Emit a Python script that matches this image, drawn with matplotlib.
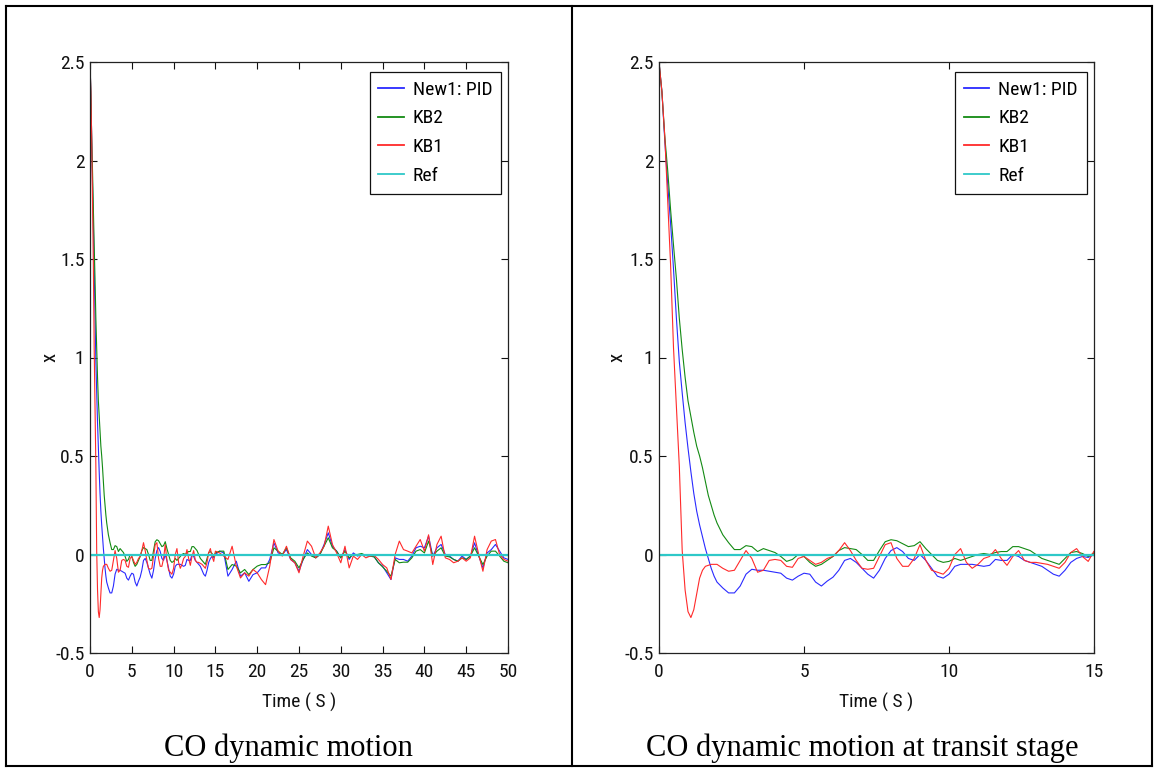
import numpy as np
import matplotlib
matplotlib.use("Agg")
import matplotlib.pyplot as plt
from matplotlib.lines import Line2D
from matplotlib import font_manager as fm

# ---------------- data ----------------
t_a = np.round(np.arange(0.0, 2.0, 0.1), 2)    # 0 .. 1.9
t_b = np.round(np.arange(2.0, 15.0, 0.2), 2)   # 2 .. 14.8
t_c = np.round(np.arange(15.0, 50.01, 0.5), 2) # 15 .. 50

blue_a = [2.5, 2.35, 2.1, 1.88, 1.68, 1.45, 1.2, 0.98, 0.82, 0.67, 0.54, 0.42,
          0.31, 0.22, 0.15, 0.09, 0.03, -0.02, -0.07, -0.11]
blue_b = [-0.14, -0.17, -0.195, -0.195, -0.16, -0.1, -0.075, -0.08, -0.08, -0.085,
          -0.09, -0.095, -0.12, -0.13, -0.11, -0.095, -0.1, -0.14, -0.16, -0.135,
          -0.115, -0.08, -0.03, -0.02, -0.04, -0.07, -0.1, -0.12, -0.08, -0.02,
          0.02, 0.035, 0.015, -0.02, -0.03, 0.0, -0.03, -0.07, -0.11, -0.12,
          -0.1, -0.06, -0.05, -0.05, -0.05, -0.055, -0.06, -0.055, -0.025, -0.03,
          -0.03, 0.0, -0.01, -0.03, -0.04, -0.05, -0.06, -0.08, -0.1, -0.11,
          -0.08, -0.04, -0.02, -0.01, -0.015]
blue_c = [0.0, 0.017, 0.008, -0.11, -0.076, -0.034, -0.11, -0.093, -0.136, -0.102,
          -0.093, -0.068, -0.068, -0.025, 0.059, 0.008, 0.0, 0.025, -0.025, -0.042,
          -0.085, -0.025, 0.025, 0.0, -0.017, 0.0, 0.051, 0.11, 0.042, 0.017,
          -0.017, 0.025, -0.025, 0.008, -0.008, 0.0, -0.005, -0.008, -0.012, -0.042,
          -0.059, -0.093, -0.127, -0.017, -0.025, -0.025, -0.034, -0.008, 0.034, 0.042,
          0.034, 0.093, -0.008, 0.034, 0.051, 0.0, -0.008, -0.025, -0.034, -0.008,
          -0.025, -0.008, 0.059, -0.008, -0.068, 0.008, 0.025, 0.051, 0.017, -0.017,
          -0.025]

green_a = [2.5, 2.35, 2.12, 1.95, 1.75, 1.57, 1.4, 1.2, 1.04, 0.9, 0.78, 0.7,
           0.62, 0.55, 0.5, 0.44, 0.37, 0.3, 0.25, 0.2]
green_b = [0.16, 0.1, 0.06, 0.025, 0.025, 0.045, 0.04, 0.015, 0.03, 0.02,
           0.01, -0.01, -0.035, -0.025, 0.0, -0.01, -0.04, -0.06, -0.05, -0.03,
           -0.01, 0.02, 0.035, 0.03, 0.025, 0.0, -0.03, -0.03, 0.02, 0.065,
           0.075, 0.07, 0.055, 0.04, 0.045, 0.065, 0.03, 0.0, -0.03, -0.04,
           -0.035, -0.02, -0.03, -0.02, -0.01, 0.0, 0.005, 0.0, 0.01, 0.015,
           0.015, 0.04, 0.04, 0.03, 0.02, 0.0, -0.02, -0.03, -0.04, -0.05,
           -0.02, 0.01, 0.015, 0.005, -0.01]
green_c = [0.008, 0.017, 0.017, -0.076, -0.051, -0.059, -0.093, -0.076, -0.102, -0.076,
           -0.059, -0.051, -0.051, -0.042, 0.034, 0.017, 0.0, 0.034, -0.017, -0.034,
           -0.068, -0.025, 0.008, -0.008, -0.017, 0.0, 0.042, 0.085, 0.034, 0.017,
           -0.017, 0.017, -0.017, 0.0, 0.0, 0.005, -0.005, -0.008, -0.012, -0.042,
           -0.063, -0.085, -0.11, -0.025, -0.042, -0.039, -0.039, -0.017, 0.017, 0.025,
           0.008, 0.068, -0.008, 0.017, 0.034, -0.008, -0.012, -0.025, -0.034, -0.017,
           -0.025, -0.008, 0.034, -0.008, -0.051, -0.008, 0.017, 0.017, -0.008, -0.034,
           -0.042]

red_a = [2.5, 2.35, 2.12, 1.8, 1.47, 1.05, 0.75, 0.45, 0.02, -0.18, -0.29, -0.32,
         -0.28, -0.2, -0.12, -0.08, -0.06, -0.055, -0.05, -0.05]
red_b = [-0.05, -0.07, -0.085, -0.08, -0.03, 0.02, -0.02, -0.09, -0.08, -0.03,
         -0.025, -0.03, -0.06, -0.065, -0.02, -0.01, -0.03, -0.05, -0.04, -0.02,
         -0.01, 0.02, 0.06, 0.02, -0.03, -0.07, -0.075, -0.07, -0.01, 0.05,
         0.06, -0.02, -0.06, -0.06, -0.02, 0.05, -0.03, -0.08, -0.09, -0.1,
         -0.07, 0.0, 0.03, -0.04, -0.07, -0.05, -0.02, -0.01, 0.025, -0.02,
         -0.055, -0.01, 0.02, -0.03, -0.04, -0.04, -0.045, -0.05, -0.06, -0.07,
         -0.04, 0.01, 0.03, -0.01, -0.035]
red_c = [0.017, 0.008, -0.008, -0.025, 0.042, -0.059, -0.119, -0.093, -0.11, -0.076,
         -0.093, -0.127, -0.153, -0.059, 0.076, 0.017, -0.008, 0.042, -0.025, -0.042,
         -0.093, -0.008, 0.068, 0.042, -0.017, 0.008, 0.042, 0.144, 0.051, 0.008,
         -0.042, 0.042, -0.068, -0.008, -0.025, 0.0, -0.017, -0.008, -0.005, -0.025,
         -0.051, -0.068, -0.127, 0.0, 0.068, 0.025, 0.017, 0.008, 0.042, 0.076,
         0.017, 0.10, -0.051, 0.051, 0.093, -0.017, -0.025, -0.042, -0.034, -0.017,
         -0.034, -0.017, 0.093, 0.0, -0.085, 0.025, 0.068, 0.076, 0.0, -0.025,
         -0.034]

ref_t = [0.0, 50.0]
ref_x = [0.0, 0.0]

labels = ["New1: PID", "KB2", "KB1", "Ref"]
captions = ["CO dynamic motion", "CO dynamic motion at transit stage"]
x_ticks_left = [0, 5, 10, 15, 20, 25, 30, 35, 40, 45, 50]
x_ticks_right = [0, 5, 10, 15]
y_ticks = [-0.5, 0, 0.5, 1, 1.5, 2, 2.5]
y_ticklabels = ["-0.5", "0", "0.5", "1", "1.5", "2", "2.5"]

t = np.concatenate([t_a, t_b, t_c])
blue = np.concatenate([blue_a, blue_b, blue_c])
green = np.concatenate([green_a, green_b, green_c])
red = np.concatenate([red_a, red_b, red_c])

# ---------------- fonts ----------------
def pick_narrow():
    entries = fm.fontManager.ttflist
    prefs = ["liberation sans narrow", "roboto condensed", "dejavu sans condensed",
             "open sans condensed", "noto sans condensed", "arial narrow"]
    for pref in prefs:
        for f in entries:
            fn = f.fname.lower()
            if f.style != "normal" or f.weight not in (400, "normal", "regular"):
                continue
            key = pref.replace(" ", "")
            if key in fn.replace("-", "").replace("_", "").replace(" ", ""):
                return f.fname
    for f in entries:
        if ("condensed" in str(f.stretch).lower() and f.style == "normal"
                and f.weight in (400, "normal", "regular")):
            return f.fname
    return None

narrow_path = pick_narrow()

def tfont(size):
    if narrow_path:
        return fm.FontProperties(fname=narrow_path, size=size)
    return fm.FontProperties(family="Liberation Sans", size=size)

names = {f.name for f in fm.fontManager.ttflist}
serif_font = "Liberation Serif" if "Liberation Serif" in names else "DejaVu Serif"

# ---------------- figure ----------------
W, H = 1155, 769
fig = plt.figure(figsize=(W / 100, H / 100), dpi=100)
fig.patch.set_facecolor("white")

def fx(px):
    return px / W

def fy(py):
    return 1 - py / H

col_blue = "#2a2aff"
col_green = "#138a13"
col_red = "#ff2a2a"
col_cyan = "#2ec8c8"

panels = [
    dict(left=90, right=508, xmax=50, xticks=x_ticks_left, ylab_x=50),
    dict(left=659, right=1094, xmax=15, xticks=x_ticks_right, ylab_x=617),
]
top_px, bot_px = 62, 653
fsize = 14

for p in panels:
    ax = fig.add_axes([fx(p["left"]), fy(bot_px), (p["right"] - p["left"]) / W,
                       (bot_px - top_px) / H])
    ax.plot(t, blue, color=col_blue, lw=0.8, label=labels[0])
    ax.plot(t, green, color=col_green, lw=0.8, label=labels[1])
    ax.plot(t, red, color=col_red, lw=0.8, label=labels[2])
    ax.plot(ref_t, ref_x, color=col_cyan, lw=1.6, label=labels[3])
    ax.set_xlim(0, p["xmax"])
    ax.set_ylim(-0.5, 2.5)
    ax.set_xticks(p["xticks"])
    ax.set_xticklabels([str(v) for v in p["xticks"]], fontproperties=tfont(fsize))
    ax.set_yticks(y_ticks)
    ax.set_yticklabels(y_ticklabels, fontproperties=tfont(fsize))
    ax.tick_params(direction="in", top=True, right=True, length=5, width=0.8,
                   colors="#111111")
    ax.tick_params(axis="x", pad=7)
    ax.tick_params(axis="y", pad=4)
    for s in ax.spines.values():
        s.set_linewidth(0.9)
        s.set_color("#222222")
    ax.set_xlabel("Time ( S )", fontproperties=tfont(fsize), color="#111111")
    ax.xaxis.set_label_coords(0.5, -(702 - bot_px) / (bot_px - top_px))
    ax.xaxis.label.set_va("center")
    ax.set_ylabel("x", fontproperties=tfont(fsize + 1), color="#111111")
    ax.yaxis.set_label_coords((p["ylab_x"] - p["left"]) / (p["right"] - p["left"]), 0.5)
    ax.yaxis.label.set_va("center")
    leg = ax.legend(loc="upper right", bbox_to_anchor=(0.983, 0.983),
                    borderaxespad=0, frameon=True, fancybox=False, framealpha=1,
                    edgecolor="#111111", handlelength=1.3, handletextpad=0.45,
                    labelspacing=0.55, borderpad=0.45, prop=tfont(fsize))
    leg.get_frame().set_linewidth(0.9)
    for h in leg.get_lines():
        h.set_linewidth(1.3)

# captions
fig.text(fx(288.5), fy(748), captions[0], ha="center", va="center",
         fontfamily=serif_font, fontsize=22)
fig.text(fx(862), fy(748), captions[1], ha="center", va="center",
         fontfamily=serif_font, fontsize=22)

# table borders
bw = 1.5
x0, x1, xm = 5.5, 1152, 572
y0, y1 = 5.5, 766
for xs, ys in [([x0, x1], [y0, y0]), ([x0, x1], [y1, y1]),
               ([x0, x0], [y0, y1]), ([x1, x1], [y0, y1]),
               ([xm, xm], [y0, y1])]:
    fig.add_artist(Line2D([fx(v) for v in xs], [fy(v) for v in ys],
                          transform=fig.transFigure, color="black", lw=bw))

fig.savefig("out.png", dpi=100)
